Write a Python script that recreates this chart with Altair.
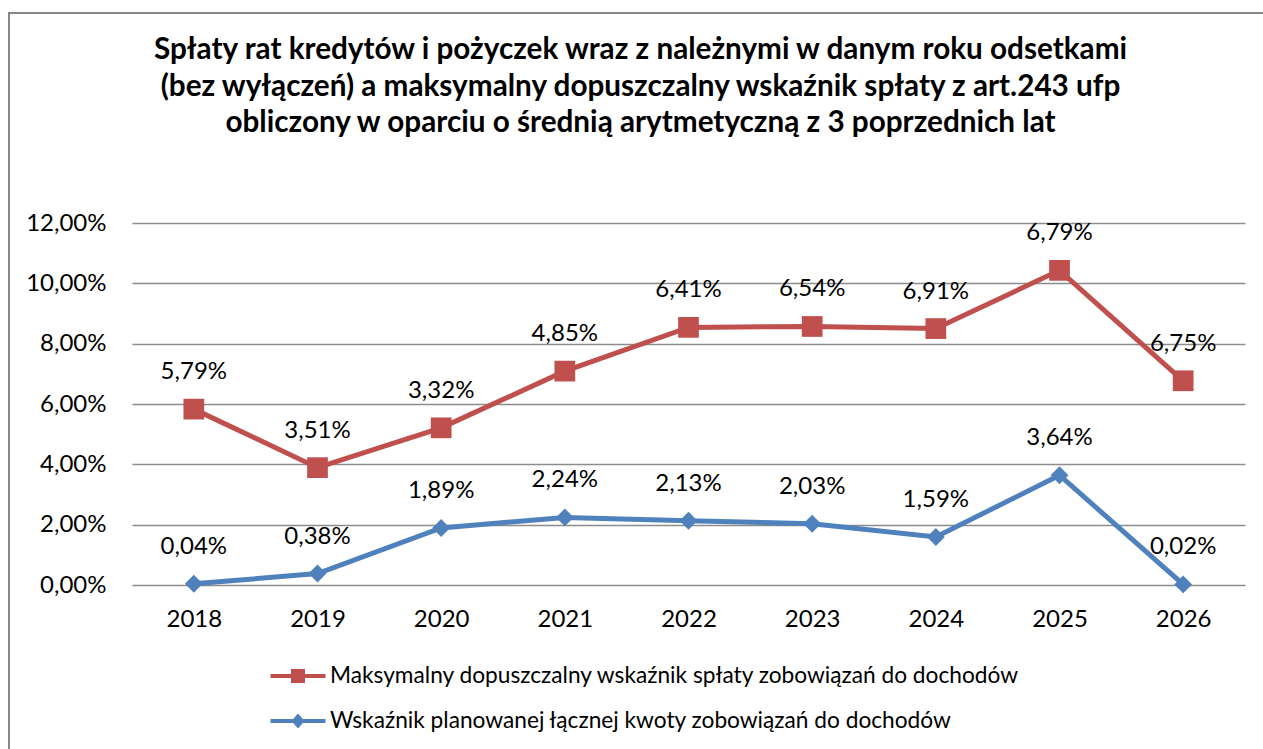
import altair as alt
import pandas as pd

years = ["2018", "2019", "2020", "2021", "2022", "2023", "2024", "2025", "2026"]
series_max = "Maksymalny dopuszczalny wskaźnik spłaty zobowiązań do dochodów"
series_plan = "Wskaźnik planowanej łącznej kwoty zobowiązań do dochodów"
# stacked line chart (values as shown in the data labels)
max_vals = [5.79, 3.51, 3.32, 4.85, 6.41, 6.54, 6.91, 6.79, 6.75]
plan_vals = [0.04, 0.38, 1.89, 2.24, 2.13, 2.03, 1.59, 3.64, 0.02]
y_ticks = [0, 2, 4, 6, 8, 10, 12]
title_lines = [
    "Spłaty rat kredytów i pożyczek wraz z należnymi w danym roku odsetkami",
    "(bez wyłączeń) a maksymalny dopuszczalny wskaźnik spłaty z art.243 ufp",
    "obliczony w oparciu o średnią arytmetyczną z 3 poprzednich lat",
]
series_order = [series_max, series_plan]
series_colors = ["#C0504D", "#4F81BD"]

rows = []
for y, v in zip(years, plan_vals):
    rows.append({"year": y, "series": series_plan, "value": v, "rank": 0})
for y, v in zip(years, max_vals):
    rows.append({"year": y, "series": series_max, "value": v, "rank": 1})
df = pd.DataFrame(rows)
df["label"] = df["value"].map(lambda v: f"{v:.2f}".replace(".", ",") + "%")

FONT = "Lato"
FS = 24

base = alt.Chart(df).transform_stack(
    stack="value",
    groupby=["year"],
    sort=[alt.SortField("rank", order="ascending")],
    as_=["y0", "y1"],
)

x_enc = alt.X(
    "year:N",
    sort=years,
    title=None,
    axis=alt.Axis(
        labelAngle=0, domain=False, ticks=False, tickSize=0, grid=False,
        labelFont=FONT, labelFontSize=FS, labelColor="#000000",
        labelPadding=34, labelBaseline="middle",
    ),
)
y_enc = alt.Y(
    "y1:Q",
    title=None,
    scale=alt.Scale(domain=[0, 12], nice=False, zero=True),
    axis=alt.Axis(
        values=y_ticks,
        labelExpr="replace(format(datum.value, '.2f'), '.', ',') + '%'",
        domain=False, ticks=False, tickSize=0,
        gridColor="#8c8c8c", gridWidth=1.6,
        labelFont=FONT, labelFontSize=FS, labelColor="#000000",
        labelPadding=26, labelBaseline="middle",
    ),
)
x_plain = alt.X("year:N", sort=years)
y_plain = alt.Y("y1:Q")

red_path = "M-1.375,-0.1H1.375V0.1H-1.375Z M-0.35,-0.35H0.35V0.35H-0.35Z"
blue_path = "M-1.375,-0.1H1.375V0.1H-1.375Z M-0.33,0L0,-0.375L0.33,0L0,0.375Z"

red_data = base.transform_filter(alt.datum.rank == 1)
blue_data = base.transform_filter(alt.datum.rank == 0)

red_line = red_data.mark_line(strokeWidth=5, color=series_colors[0]).encode(
    x=x_enc, y=y_enc
)
blue_line = blue_data.mark_line(strokeWidth=5, color=series_colors[1]).encode(
    x=x_plain, y=y_plain
)

red_pts = red_data.mark_point(
    filled=True, opacity=1, shape="square", size=430, color=series_colors[0]
).encode(x=x_plain, y=y_plain)

blue_pts = blue_data.mark_point(
    filled=True, opacity=1, shape="diamond", size=320, color=series_colors[1]
).encode(x=x_plain, y=y_plain)

legend = alt.Legend(
    title=None,
    orient="none",
    legendX=146,
    legendY=433,
    direction="vertical",
    symbolSize=1600,
    symbolStrokeWidth=0,
    symbolOpacity=1,
    labelFont=FONT,
    labelFontSize=22.7,
    labelColor="#000000",
    labelOffset=12,
    rowPadding=13,
    padding=0,
    labelLimit=1000,
)

legend_layer = base.mark_point(filled=True, opacity=0).encode(
    x=x_plain,
    y=y_plain,
    color=alt.Color(
        "series:N",
        scale=alt.Scale(domain=series_order, range=series_colors),
        legend=legend,
    ),
    shape=alt.Shape(
        "series:N",
        scale=alt.Scale(domain=series_order, range=[red_path, blue_path]),
        legend=legend,
    ),
)

labels = base.mark_text(
    dy=-37, font=FONT, fontSize=FS, color="#000000", baseline="middle"
).encode(x=x_plain, y=y_plain, text="label:N")

border = alt.Chart(alt.Data(values=[{"k": 1}])).mark_rect(
    fillOpacity=0, stroke="#868686", strokeWidth=2
).encode(
    x=alt.value(-123), x2=alt.value(1300), y=alt.value(-210), y2=alt.value(700)
)

chart = alt.layer(
    border, red_line, blue_line, red_pts, blue_pts, labels, legend_layer
).properties(
    width=1113,
    height=362,
    title=alt.TitleParams(
        text=title_lines,
        font=FONT,
        fontSize=29.7,
        fontWeight="bold",
        color="#000000",
        anchor="middle",
        dx=-48,
        lineHeight=36.7,
        offset=0,
        dy=127,
    ),
    autosize=alt.AutoSizeParams(type="none"),
    padding={"left": 132, "top": 223, "right": 18, "bottom": 164},
    background="#ffffff",
).configure_view(stroke=None)

chart.save("out.html", embed_options={"renderer": "svg", "actions": False})
